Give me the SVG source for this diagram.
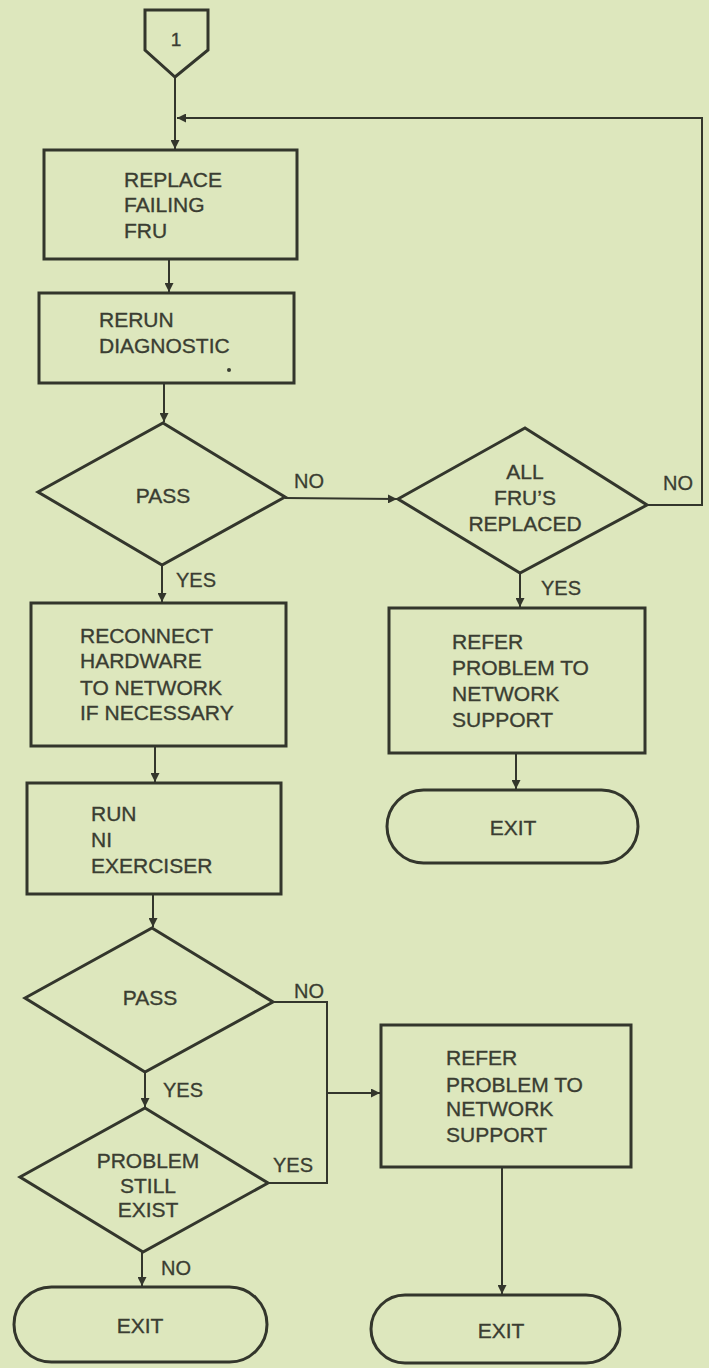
<svg xmlns="http://www.w3.org/2000/svg" width="709" height="1368" viewBox="0 0 709 1368">
<defs>
<marker id="arr" viewBox="0 0 10 10" refX="10" refY="5" markerWidth="9" markerHeight="9" markerUnits="userSpaceOnUse" orient="auto">
<path d="M0,0 L10,5 L0,10 z" fill="#33362c"/>
</marker>
<style>
.shape{fill:none;stroke:#33362c;stroke-width:3;stroke-linejoin:miter}
.conn{fill:none;stroke:#33362c;stroke-width:2}
.t{font-family:"Liberation Sans",Arial,sans-serif;font-size:21px;fill:#3a3d32;stroke:#3a3d32;stroke-width:0.35}
.c{text-anchor:middle}
.lbl{font-family:"Liberation Sans",Arial,sans-serif;font-size:20px;fill:#3a3d32;stroke:#3a3d32;stroke-width:0.3}
</style>
</defs>
<rect x="0" y="0" width="709" height="1368" fill="#dde7bd"/>

<g id="connectors">
<line class="conn" x1="175" y1="77" x2="175" y2="149" marker-end="url(#arr)"/>
<path class="conn" d="M647 505 H702 V118 H177" marker-end="url(#arr)"/>
<line class="conn" x1="169" y1="259" x2="169" y2="292" marker-end="url(#arr)"/>
<line class="conn" x1="164" y1="383" x2="164" y2="422" marker-end="url(#arr)"/>
<line class="conn" x1="285" y1="498" x2="397" y2="499" marker-end="url(#arr)"/>
<line class="conn" x1="520" y1="573" x2="520" y2="607" marker-end="url(#arr)"/>
<line class="conn" x1="162" y1="565" x2="162" y2="602" marker-end="url(#arr)"/>
<line class="conn" x1="516" y1="753" x2="516" y2="789" marker-end="url(#arr)"/>
<line class="conn" x1="155" y1="746" x2="155" y2="782" marker-end="url(#arr)"/>
<line class="conn" x1="153" y1="894" x2="153" y2="927" marker-end="url(#arr)"/>
<path class="conn" d="M273 1002 H327 V1183 H268"/>
<line class="conn" x1="327" y1="1093" x2="380" y2="1093" marker-end="url(#arr)"/>
<line class="conn" x1="145" y1="1072" x2="145" y2="1107" marker-end="url(#arr)"/>
<line class="conn" x1="142" y1="1252" x2="142" y2="1286" marker-end="url(#arr)"/>
<line class="conn" x1="502" y1="1167" x2="502" y2="1294" marker-end="url(#arr)"/>
<text class="lbl" x="294" y="488">NO</text>
<text class="lbl" x="663" y="490">NO</text>
<text class="lbl" x="176" y="587">YES</text>
<text class="lbl" x="541" y="595">YES</text>
<text class="lbl" x="294" y="998">NO</text>
<text class="lbl" x="163" y="1097">YES</text>
<text class="lbl" x="273" y="1172">YES</text>
<text class="lbl" x="161" y="1275">NO</text>
</g>

<g id="offpage1">
<polygon class="shape" points="145,10 208,10 208,50 175,77 145,50"/>
<text class="t c" x="176" y="46" style="font-size:19px">1</text>
</g>

<g id="replace-fru">
<rect class="shape" x="44" y="150" width="253" height="109"/>
<text class="t" x="124" y="187">REPLACE</text>
<text class="t" x="124" y="212">FAILING</text>
<text class="t" x="124" y="238">FRU</text>
</g>

<g id="rerun-diag">
<rect class="shape" x="39" y="293" width="255" height="90"/>
<text class="t" x="99" y="327">RERUN</text>
<text class="t" x="99" y="353">DIAGNOSTIC</text>
<circle cx="229" cy="370" r="2" fill="#3a3d32"/>
</g>

<g id="pass1">
<polygon class="shape" points="163,423 285,497 162,565 38,492"/>
<text class="t c" x="163" y="503">PASS</text>
</g>

<g id="all-frus">
<polygon class="shape" points="525,428 647,505 520,573 398,499"/>
<text class="t c" x="525" y="479">ALL</text>
<text class="t c" x="525" y="505">FRU’S</text>
<text class="t c" x="525" y="531">REPLACED</text>
</g>

<g id="refer1">
<rect class="shape" x="389" y="608" width="256" height="145"/>
<text class="t" x="452" y="649">REFER</text>
<text class="t" x="452" y="675">PROBLEM TO</text>
<text class="t" x="452" y="701">NETWORK</text>
<text class="t" x="452" y="727">SUPPORT</text>
</g>

<g id="exit1">
<rect class="shape" x="387" y="790" width="251" height="73" rx="36.5" ry="36.5"/>
<text class="t c" x="513" y="835">EXIT</text>
</g>

<g id="reconnect">
<rect class="shape" x="31" y="603" width="255" height="143"/>
<text class="t" x="80" y="643">RECONNECT</text>
<text class="t" x="80" y="668">HARDWARE</text>
<text class="t" x="80" y="695">TO NETWORK</text>
<text class="t" x="80" y="720">IF NECESSARY</text>
</g>

<g id="run-ni">
<rect class="shape" x="27" y="783" width="254" height="111"/>
<text class="t" x="91" y="821">RUN</text>
<text class="t" x="91" y="847">NI</text>
<text class="t" x="91" y="873">EXERCISER</text>
</g>

<g id="pass2">
<polygon class="shape" points="152,928 273,1002 145,1072 25,998"/>
<text class="t c" x="150" y="1005">PASS</text>
</g>

<g id="problem-still">
<polygon class="shape" points="145,1108 268,1183 143,1252 20,1177"/>
<text class="t c" x="148" y="1168">PROBLEM</text>
<text class="t c" x="148" y="1193">STILL</text>
<text class="t c" x="148" y="1217">EXIST</text>
</g>

<g id="refer2">
<rect class="shape" x="381" y="1025" width="250" height="142"/>
<text class="t" x="446" y="1065">REFER</text>
<text class="t" x="446" y="1092">PROBLEM TO</text>
<text class="t" x="446" y="1116">NETWORK</text>
<text class="t" x="446" y="1142">SUPPORT</text>
</g>

<g id="exit2">
<rect class="shape" x="14" y="1287" width="253" height="75" rx="37.5" ry="37.5"/>
<text class="t c" x="140" y="1333">EXIT</text>
</g>

<g id="exit3">
<rect class="shape" x="371" y="1295" width="249" height="68" rx="34" ry="34"/>
<text class="t c" x="501" y="1338">EXIT</text>
</g>
</svg>
